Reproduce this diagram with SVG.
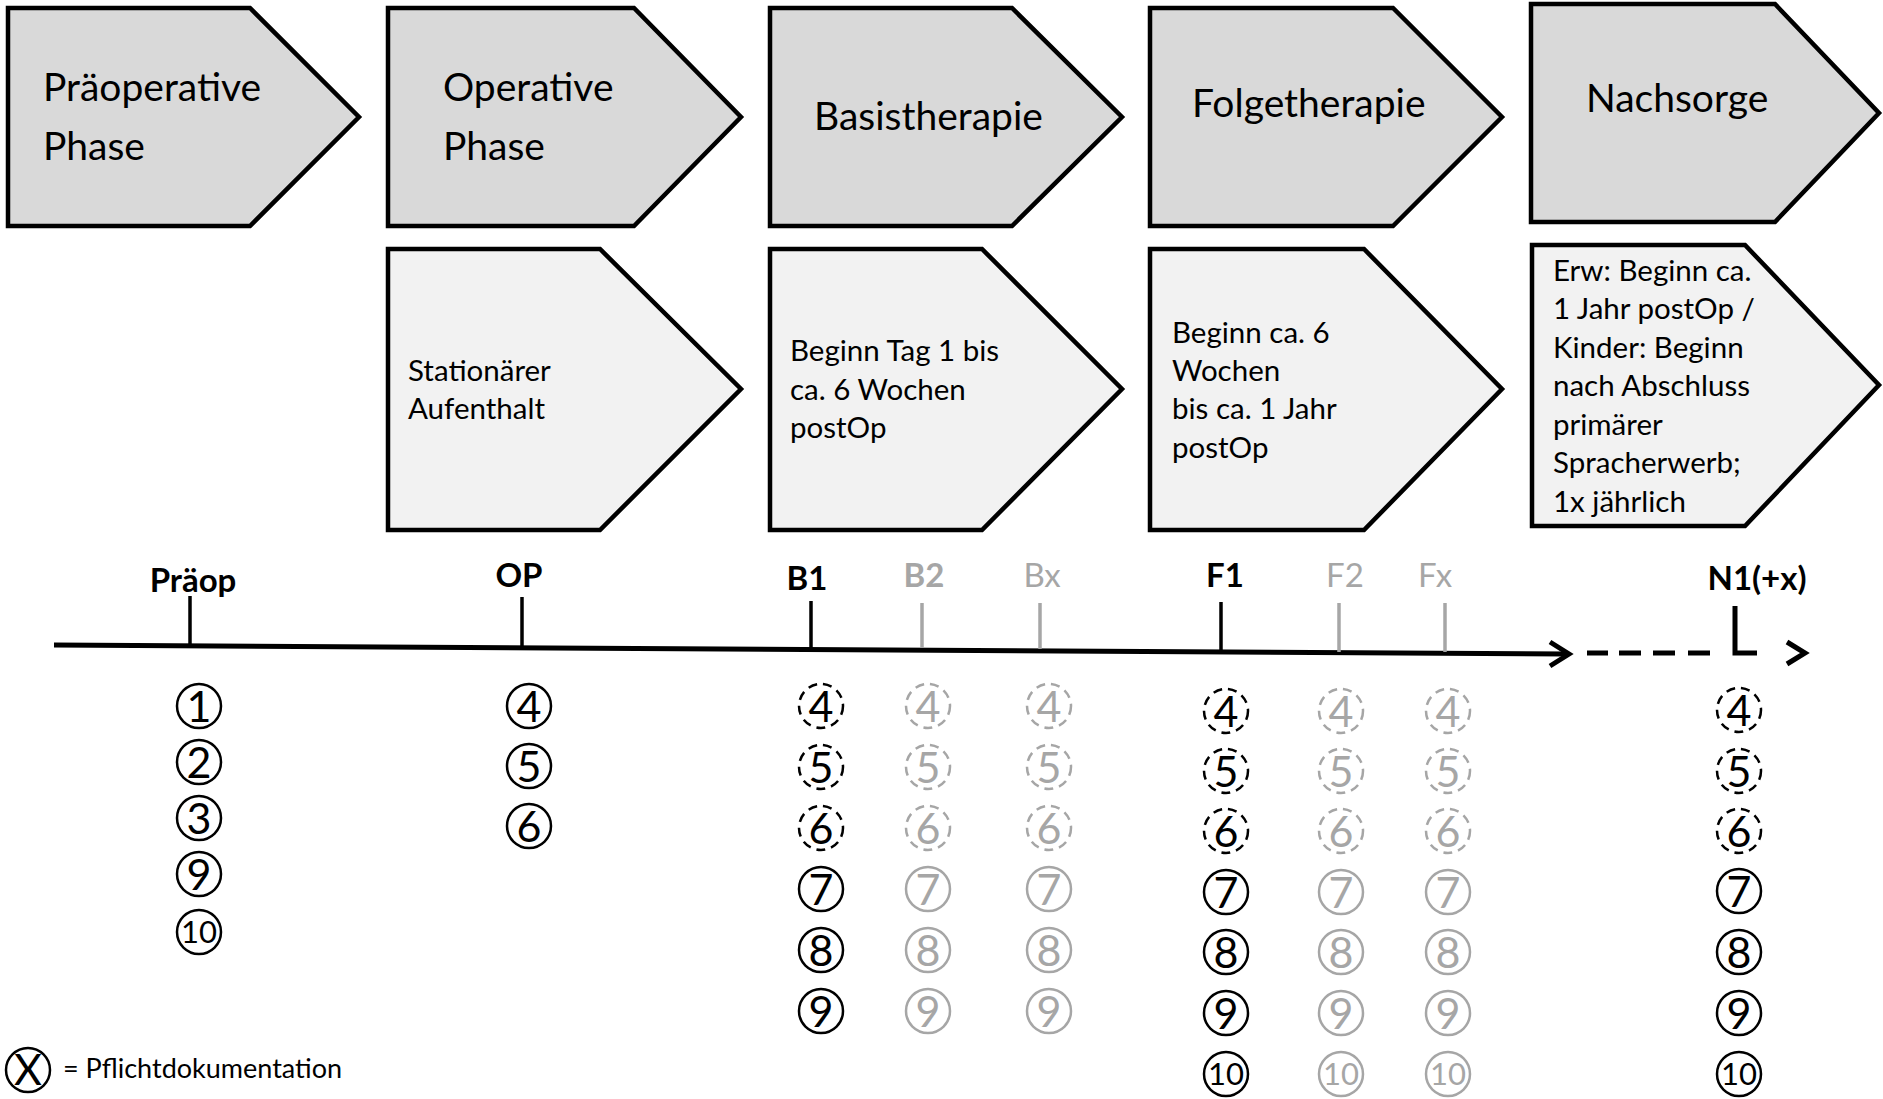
<svg xmlns="http://www.w3.org/2000/svg" width="1883" height="1099" viewBox="0 0 1883 1099">
<style>
.ph{fill:#d9d9d9;stroke:#000;stroke-width:4.5;stroke-linejoin:miter}
.sub{fill:#f2f2f2;stroke:#000;stroke-width:4.5;stroke-linejoin:miter}
.t1{font-family:Lato,"Liberation Sans",sans-serif;font-size:39px;fill:#000}
.t2{font-family:Lato,"Liberation Sans",sans-serif;font-size:29.5px;fill:#000}
.lb{font-family:Lato,"Liberation Sans",sans-serif;font-size:33px;text-anchor:middle}
.b{font-weight:bold}
.blk{fill:#000}
.gry{fill:#a6a6a6}
.tk{stroke-width:3.5;fill:none}
.tkb{stroke:#000}
.tkg{stroke:#a6a6a6}
.c{fill:#fff;stroke-width:2.5}
.cb{stroke:#000}
.cg{stroke:#a6a6a6}
.d{stroke-dasharray:9 6}
.n{font-family:Lato,"Liberation Sans",sans-serif;font-size:43px;text-anchor:middle}
.n10{font-family:Lato,"Liberation Sans",sans-serif;font-size:31px;text-anchor:middle}
.ax{stroke:#000;stroke-width:5;fill:none}
</style>
<g id="phase-praeop">
<polygon class="ph" points="8,8 250,8 359,117 250,226 8,226"/>
<text class="t1" x="43" y="101">Präoperative</text>
<text class="t1" x="43" y="160">Phase</text>
</g>
<g id="phase-op">
<polygon class="ph" points="388,8 634,8 741,117 634,226 388,226"/>
<text class="t1" x="443" y="101">Operative</text>
<text class="t1" x="443" y="160">Phase</text>
</g>
<g id="phase-basis">
<polygon class="ph" points="770,8 1012,8 1122,117 1012,226 770,226"/>
<text class="t1" x="814" y="130">Basistherapie</text>
</g>
<g id="phase-folge">
<polygon class="ph" points="1150,8 1393,8 1502,117 1393,226 1150,226"/>
<text class="t1" x="1192" y="117">Folgetherapie</text>
</g>
<g id="phase-nachsorge">
<polygon class="ph" points="1531,4 1775,4 1879,113 1775,222 1531,222"/>
<text class="t1" x="1586" y="112">Nachsorge</text>
</g>
<g id="sub-op">
<polygon class="sub" points="388,249 600,249 741,389 600,530 388,530"/>
<text class="t2" x="408" y="381">Stationärer</text>
<text class="t2" x="408" y="419">Aufenthalt</text>
</g>
<g id="sub-basis">
<polygon class="sub" points="770,249 982,249 1122,389 982,530 770,530"/>
<text class="t2" x="790" y="361">Beginn Tag 1 bis</text>
<text class="t2" x="790" y="400">ca. 6 Wochen</text>
<text class="t2" x="790" y="438">postOp</text>
</g>
<g id="sub-folge">
<polygon class="sub" points="1150,249 1364,249 1502,389 1364,530 1150,530"/>
<text class="t2" x="1172" y="343">Beginn ca. 6</text>
<text class="t2" x="1172" y="381">Wochen</text>
<text class="t2" x="1172" y="419">bis ca. 1 Jahr</text>
<text class="t2" x="1172" y="458">postOp</text>
</g>
<g id="sub-nachsorge">
<polygon class="sub" points="1532,245 1745,245 1879,385 1745,526 1532,526"/>
<text class="t2" x="1553" y="281">Erw: Beginn ca.</text>
<text class="t2" x="1553" y="319">1 Jahr postOp /</text>
<text class="t2" x="1553" y="358">Kinder: Beginn</text>
<text class="t2" x="1553" y="396">nach Abschluss</text>
<text class="t2" x="1553" y="435">primärer</text>
<text class="t2" x="1553" y="473">Spracherwerb;</text>
<text class="t2" x="1553" y="512">1x jährlich</text>
</g>
<g id="connectors">
<line class="ax" x1="54" y1="645" x2="1568" y2="654"/>
<path class="ax" d="M1550,642 L1569,654 L1550,666"/>
<path class="ax" d="M1587,653 H1608 M1619,653 H1641 M1653,653 H1675 M1688,653 H1710"/>
<path class="ax" d="M1735,606 V653 H1757"/>
<path class="ax" d="M1787,642 L1805,653 L1787,664"/>
</g>
<g id="m-praeop">
<line class="tk tkb" x1="190" y1="596" x2="190" y2="644"/>
<text class="lb b blk" x="193" y="592">Präop</text>
<circle cx="199" cy="706" r="22" class="c cb"/><text class="n blk" x="199" y="722">1</text>
<circle cx="199" cy="762" r="22" class="c cb"/><text class="n blk" x="199" y="778">2</text>
<circle cx="199" cy="818" r="22" class="c cb"/><text class="n blk" x="199" y="834">3</text>
<circle cx="199" cy="874" r="22" class="c cb"/><text class="n blk" x="199" y="890">9</text>
<circle cx="199" cy="932" r="22" class="c cb"/><text class="n10 blk" x="199" y="943">10</text>
</g>
<g id="m-op">
<line class="tk tkb" x1="522" y1="597" x2="522" y2="646"/>
<text class="lb b blk" x="519" y="587">OP</text>
<circle cx="529" cy="706" r="22" class="c cb"/><text class="n blk" x="529" y="722">4</text>
<circle cx="529" cy="766" r="22" class="c cb"/><text class="n blk" x="529" y="782">5</text>
<circle cx="529" cy="826" r="22" class="c cb"/><text class="n blk" x="529" y="842">6</text>
</g>
<g id="m-b1">
<line class="tk tkb" x1="811" y1="601" x2="811" y2="648"/>
<text class="lb b blk" x="807" y="590">B1</text>
<circle cx="821" cy="706" r="22" class="c cb d"/><text class="n blk" x="821" y="722">4</text>
<circle cx="821" cy="767" r="22" class="c cb d"/><text class="n blk" x="821" y="783">5</text>
<circle cx="821" cy="828" r="22" class="c cb d"/><text class="n blk" x="821" y="844">6</text>
<circle cx="821" cy="889" r="22" class="c cb"/><text class="n blk" x="821" y="905">7</text>
<circle cx="821" cy="950" r="22" class="c cb"/><text class="n blk" x="821" y="966">8</text>
<circle cx="821" cy="1011" r="22" class="c cb"/><text class="n blk" x="821" y="1027">9</text>
</g>
<g id="m-b2">
<line class="tk tkg" x1="922" y1="603" x2="922" y2="648"/>
<text class="lb b gry" x="924" y="587">B2</text>
<circle cx="928" cy="706" r="22" class="c cg d"/><text class="n gry" x="928" y="722">4</text>
<circle cx="928" cy="767" r="22" class="c cg d"/><text class="n gry" x="928" y="783">5</text>
<circle cx="928" cy="828" r="22" class="c cg d"/><text class="n gry" x="928" y="844">6</text>
<circle cx="928" cy="889" r="22" class="c cg"/><text class="n gry" x="928" y="905">7</text>
<circle cx="928" cy="950" r="22" class="c cg"/><text class="n gry" x="928" y="966">8</text>
<circle cx="928" cy="1011" r="22" class="c cg"/><text class="n gry" x="928" y="1027">9</text>
</g>
<g id="m-bx">
<line class="tk tkg" x1="1040" y1="603" x2="1040" y2="649"/>
<text class="lb gry" x="1042" y="587">Bx</text>
<circle cx="1049" cy="706" r="22" class="c cg d"/><text class="n gry" x="1049" y="722">4</text>
<circle cx="1049" cy="767" r="22" class="c cg d"/><text class="n gry" x="1049" y="783">5</text>
<circle cx="1049" cy="828" r="22" class="c cg d"/><text class="n gry" x="1049" y="844">6</text>
<circle cx="1049" cy="889" r="22" class="c cg"/><text class="n gry" x="1049" y="905">7</text>
<circle cx="1049" cy="950" r="22" class="c cg"/><text class="n gry" x="1049" y="966">8</text>
<circle cx="1049" cy="1011" r="22" class="c cg"/><text class="n gry" x="1049" y="1027">9</text>
</g>
<g id="m-f1">
<line class="tk tkb" x1="1221" y1="602" x2="1221" y2="651"/>
<text class="lb b blk" x="1225" y="587">F1</text>
<circle cx="1226" cy="711" r="22" class="c cb d"/><text class="n blk" x="1226" y="727">4</text>
<circle cx="1226" cy="771" r="22" class="c cb d"/><text class="n blk" x="1226" y="787">5</text>
<circle cx="1226" cy="831" r="22" class="c cb d"/><text class="n blk" x="1226" y="847">6</text>
<circle cx="1226" cy="892" r="22" class="c cb"/><text class="n blk" x="1226" y="908">7</text>
<circle cx="1226" cy="952" r="22" class="c cb"/><text class="n blk" x="1226" y="968">8</text>
<circle cx="1226" cy="1013" r="22" class="c cb"/><text class="n blk" x="1226" y="1029">9</text>
<circle cx="1226" cy="1074" r="22" class="c cb"/><text class="n10 blk" x="1226" y="1085">10</text>
</g>
<g id="m-f2">
<line class="tk tkg" x1="1339" y1="603" x2="1339" y2="652"/>
<text class="lb gry" x="1345" y="587">F2</text>
<circle cx="1341" cy="711" r="22" class="c cg d"/><text class="n gry" x="1341" y="727">4</text>
<circle cx="1341" cy="771" r="22" class="c cg d"/><text class="n gry" x="1341" y="787">5</text>
<circle cx="1341" cy="831" r="22" class="c cg d"/><text class="n gry" x="1341" y="847">6</text>
<circle cx="1341" cy="892" r="22" class="c cg"/><text class="n gry" x="1341" y="908">7</text>
<circle cx="1341" cy="952" r="22" class="c cg"/><text class="n gry" x="1341" y="968">8</text>
<circle cx="1341" cy="1013" r="22" class="c cg"/><text class="n gry" x="1341" y="1029">9</text>
<circle cx="1341" cy="1074" r="22" class="c cg"/><text class="n10 gry" x="1341" y="1085">10</text>
</g>
<g id="m-fx">
<line class="tk tkg" x1="1445" y1="603" x2="1445" y2="652"/>
<text class="lb gry" x="1435" y="587">Fx</text>
<circle cx="1448" cy="711" r="22" class="c cg d"/><text class="n gry" x="1448" y="727">4</text>
<circle cx="1448" cy="771" r="22" class="c cg d"/><text class="n gry" x="1448" y="787">5</text>
<circle cx="1448" cy="831" r="22" class="c cg d"/><text class="n gry" x="1448" y="847">6</text>
<circle cx="1448" cy="892" r="22" class="c cg"/><text class="n gry" x="1448" y="908">7</text>
<circle cx="1448" cy="952" r="22" class="c cg"/><text class="n gry" x="1448" y="968">8</text>
<circle cx="1448" cy="1013" r="22" class="c cg"/><text class="n gry" x="1448" y="1029">9</text>
<circle cx="1448" cy="1074" r="22" class="c cg"/><text class="n10 gry" x="1448" y="1085">10</text>
</g>
<g id="m-n1">
<text class="lb b blk" x="1757" y="590">N1(+x)</text>
<circle cx="1739" cy="710" r="22" class="c cb d"/><text class="n blk" x="1739" y="726">4</text>
<circle cx="1739" cy="771" r="22" class="c cb d"/><text class="n blk" x="1739" y="787">5</text>
<circle cx="1739" cy="831" r="22" class="c cb d"/><text class="n blk" x="1739" y="847">6</text>
<circle cx="1739" cy="891" r="22" class="c cb"/><text class="n blk" x="1739" y="907">7</text>
<circle cx="1739" cy="952" r="22" class="c cb"/><text class="n blk" x="1739" y="968">8</text>
<circle cx="1739" cy="1013" r="22" class="c cb"/><text class="n blk" x="1739" y="1029">9</text>
<circle cx="1739" cy="1074" r="22" class="c cb"/><text class="n10 blk" x="1739" y="1085">10</text>
</g>
<g id="legend">
<circle cx="28" cy="1070" r="22" class="c cb"/>
<text class="n blk" x="28" y="1085">X</text>
<text font-family="Lato, 'Liberation Sans', sans-serif" font-size="27" x="63" y="1078">= Pflichtdokumentation</text>
</g>
</svg>
